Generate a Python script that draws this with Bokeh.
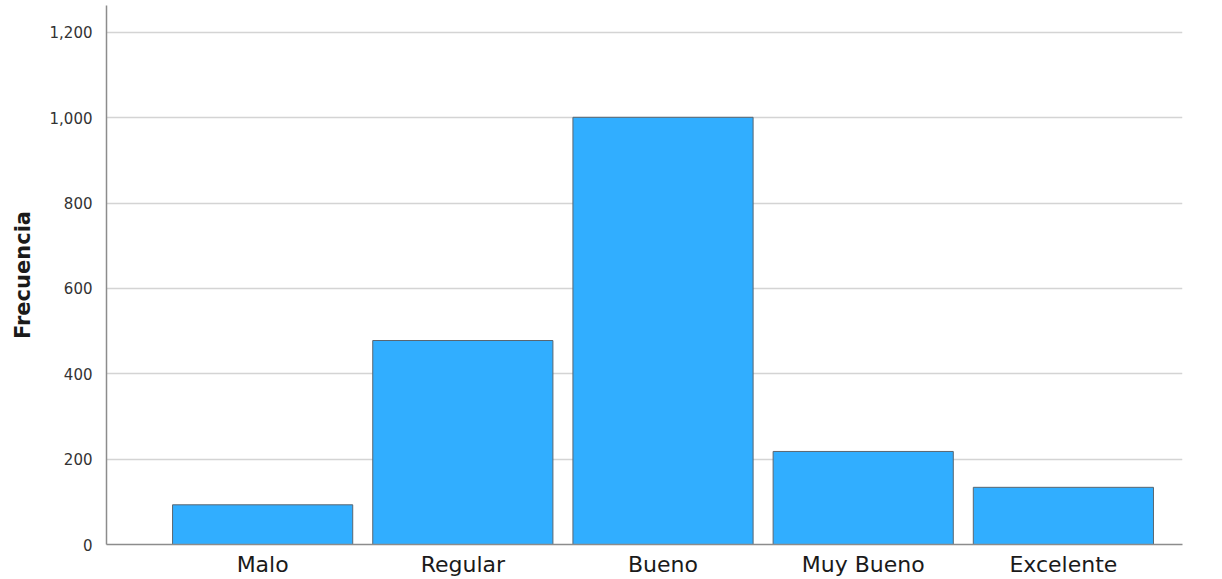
from bokeh.plotting import figure
from bokeh.models import Range1d, FixedTicker, NumeralTickFormatter
from bokeh.embed import file_html
from bokeh.resources import INLINE

categories = ["Malo", "Regular", "Bueno", "Muy Bueno", "Excelente"]
frecuencia = [93, 478, 1001, 218, 134]
y_ticks = [0, 200, 400, 600, 800, 1000, 1200]

xpos = list(range(1, len(categories) + 1))

p = figure(width=1214, height=579, output_backend="svg", toolbar_location=None,
           x_range=Range1d(0.22, 5.595), y_range=Range1d(0, 1263),
           min_border_left=106, min_border_right=32, min_border_top=5, min_border_bottom=10)
p.outline_line_color = None
p.background_fill_color = "white"

p.vbar(x=xpos, top=frecuencia, width=0.9, bottom=0,
       fill_color="#31aeff", line_color="#5a6670", line_width=1)

p.xaxis.ticker = FixedTicker(ticks=xpos)
p.xaxis.major_label_overrides = {i: c for i, c in zip(xpos, categories)}
p.xaxis.major_label_text_font = "DejaVu Sans"
p.xaxis.major_label_text_font_size = "22px"
p.xaxis.major_label_text_color = "#1a1a1a"
p.xaxis.major_label_standoff = 1
p.xaxis.major_tick_line_color = None
p.xaxis.minor_tick_line_color = None
p.xaxis.axis_line_color = "#8c8c8c"
p.xaxis.axis_line_width = 1.5

p.yaxis.ticker = FixedTicker(ticks=y_ticks)
p.yaxis.formatter = NumeralTickFormatter(format="0,0")
p.yaxis.major_label_text_font = "DejaVu Sans"
p.yaxis.major_label_text_font_size = "15px"
p.yaxis.major_label_text_color = "#333333"
p.yaxis.major_label_standoff = 8
p.yaxis.major_tick_line_color = None
p.yaxis.minor_tick_line_color = None
p.yaxis.axis_line_color = "#8c8c8c"
p.yaxis.axis_line_width = 1.5
p.yaxis.axis_label = "Frecuencia"
p.yaxis.axis_label_text_font = "DejaVu Sans"
p.yaxis.axis_label_text_font_size = "21px"
p.yaxis.axis_label_text_font_style = "bold"
p.yaxis.axis_label_text_color = "#1a1a1a"
p.yaxis.axis_label_standoff = 12

p.xgrid.grid_line_color = None
p.ygrid.ticker = FixedTicker(ticks=y_ticks[1:])
p.ygrid.grid_line_color = "#d4d4d4"
p.ygrid.grid_line_width = 1.5

open("out.html", "w").write(file_html(p, INLINE))
